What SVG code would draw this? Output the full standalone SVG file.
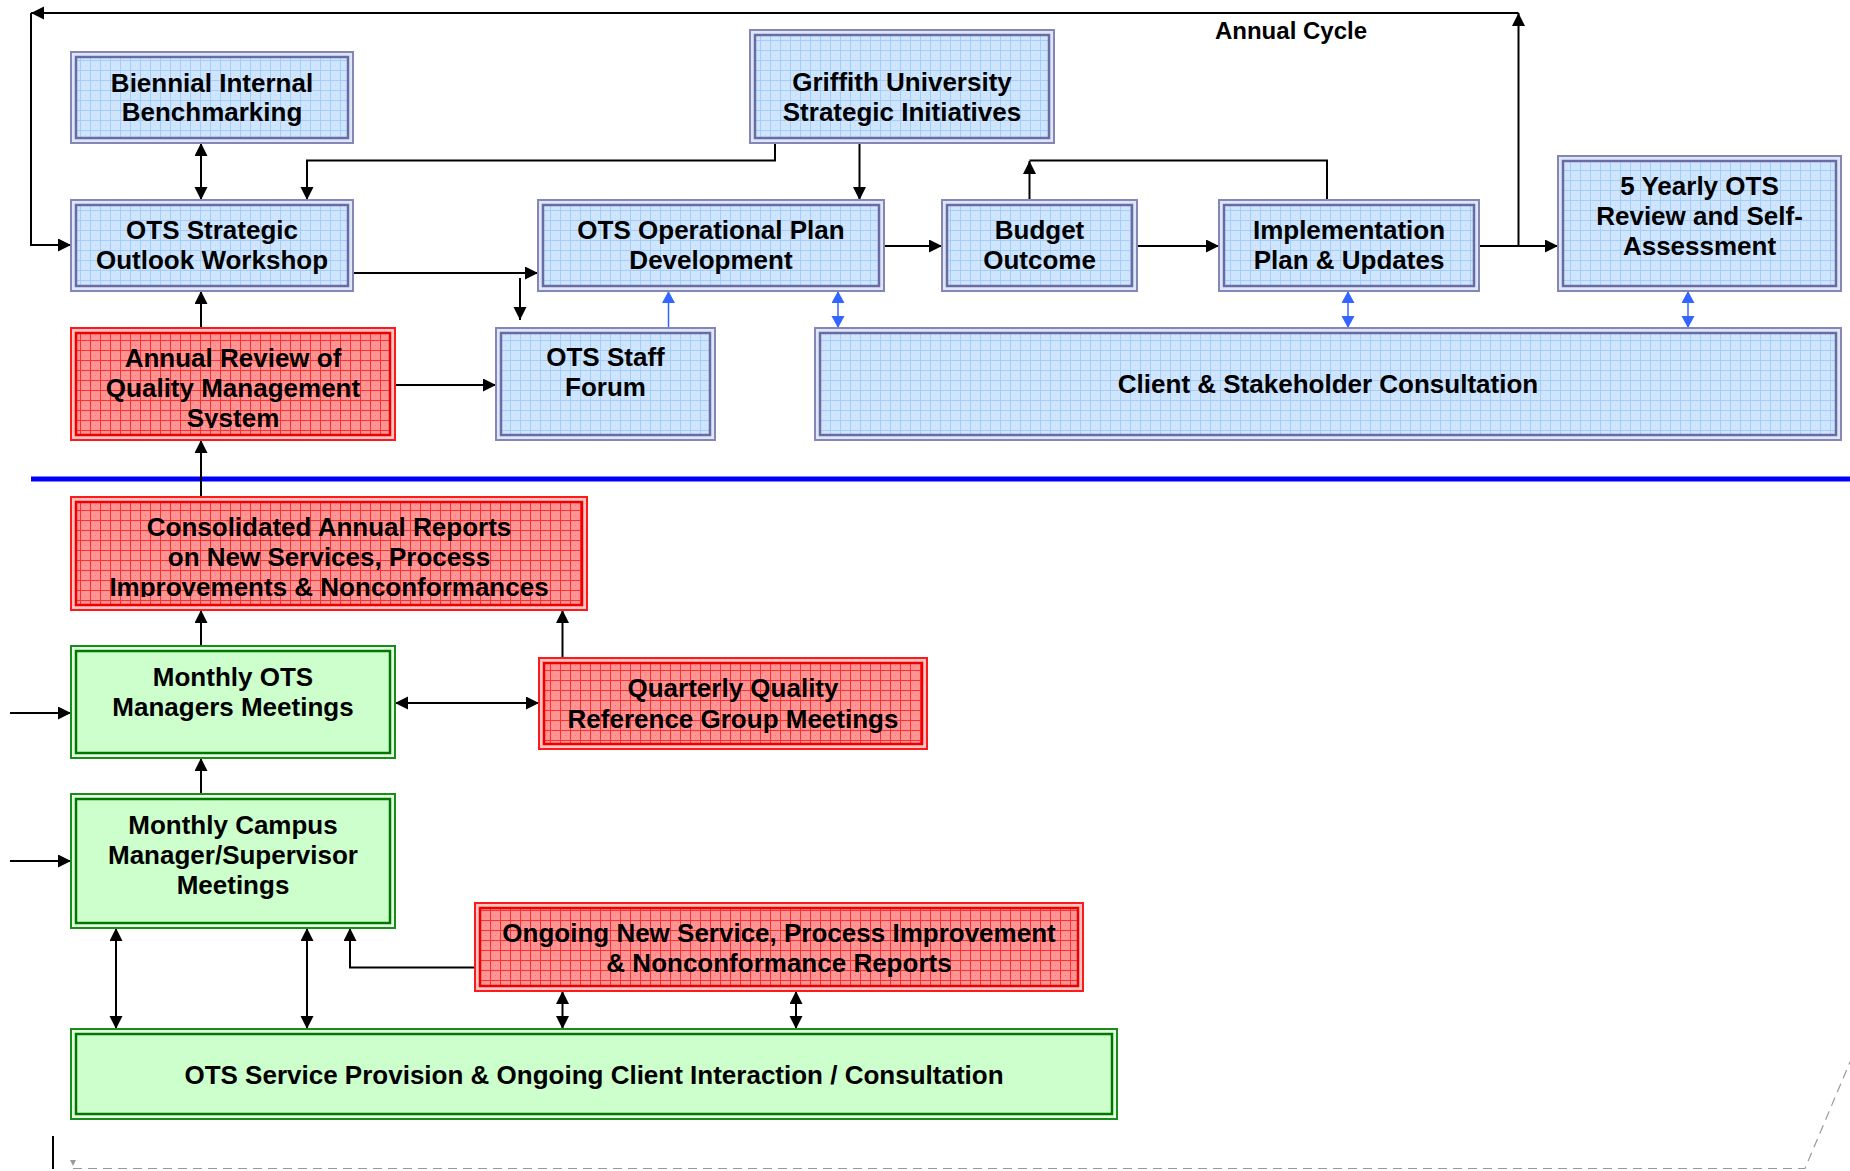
<svg xmlns="http://www.w3.org/2000/svg" width="1850" height="1171" viewBox="0 0 1850 1171">
<defs>
  <pattern id="gridBlue" patternUnits="userSpaceOnUse" width="10" height="10">
    <rect width="10" height="10" fill="#cfe5fd"/>
    <rect x="0" y="0" width="1" height="1" fill="#bcd9fb"/>
    <rect x="5" y="5" width="1" height="1" fill="#bcd9fb"/>
    <path d="M0,0.5H10M0.5,0V10" stroke="#a3cdfa" stroke-width="1"/>
  </pattern>
  <pattern id="gridRed" patternUnits="userSpaceOnUse" width="10" height="10">
    <rect width="10" height="10" fill="#ff9494"/>
    <rect x="5" y="5" width="1" height="1" fill="#ff7070"/>
    <path d="M0,0.5H10M0.5,0V10" stroke="#ff3030" stroke-width="1"/>
  </pattern>
  <marker id="ah" markerUnits="userSpaceOnUse" markerWidth="14" markerHeight="14" refX="13" refY="6.5" orient="auto-start-reverse">
    <path d="M0,0L13,6.5L0,13z" fill="#000"/>
  </marker>
  <marker id="ahb" markerUnits="userSpaceOnUse" markerWidth="14" markerHeight="14" refX="12" refY="6.5" orient="auto-start-reverse">
    <path d="M0,0L12,6.5L0,13z" fill="#3366ff"/>
  </marker>
  <clipPath id="clipAnnual"><rect x="71" y="328" width="324" height="100"/></clipPath>
  <clipPath id="clipCons"><rect x="71" y="497" width="516" height="100"/></clipPath>
</defs>
<style>
  text { font-family: "Liberation Sans", Arial, sans-serif; font-weight: bold; font-size: 26px; text-anchor: middle; fill: #000; }
  .blue .outer { fill: #dce8f8; stroke: #8686b6; stroke-width: 2; }
  .blue .inner { fill: url(#gridBlue); stroke: #6b6ba3; stroke-width: 2.5; }
  .red .outer { fill: #ffc4c4; stroke: #ff1a1a; stroke-width: 2; }
  .red .inner { fill: url(#gridRed); stroke: #ee0000; stroke-width: 2.5; }
  .green .outer { fill: #e2ffe2; stroke: #1a8c1a; stroke-width: 2; }
  .green .inner { fill: #ccffcc; stroke: #007800; stroke-width: 2.5; }
  .conn path { fill: none; stroke: #000; stroke-width: 2; }
  .conn path.a { marker-end: url(#ah); }
  .conn path.d { marker-start: url(#ah); marker-end: url(#ah); }
  .conn path.b { stroke: #3366ff; stroke-width: 1.5; marker-end: url(#ahb); }
  .conn path.bd { stroke: #3366ff; stroke-width: 1.5; marker-start: url(#ahb); marker-end: url(#ahb); }
</style>
<rect width="1850" height="1171" fill="#fff"/>

<!-- separator and page marks -->
<line x1="31" y1="479" x2="1850" y2="479" stroke="#0000ff" stroke-width="5"/>
<line x1="53" y1="1136" x2="53" y2="1169" stroke="#000" stroke-width="2"/>
<path d="M70,1160L76,1160L73,1166z" fill="#999"/>
<path d="M73,1168.5H1805L1850,1062" fill="none" stroke="#999" stroke-width="1.2" stroke-dasharray="9 6"/>
<text x="1291" y="39" style="font-size:24px">Annual Cycle</text>

<g id="connectors" class="conn">
  <path class="a" d="M1518.5,246V13"/>
  <path class="a" d="M1518.5,13H31"/>
  <path class="a" d="M31,13V245H71"/>
  <path class="d" d="M201,143V200"/>
  <path class="a" d="M775,143V160.5H307V200"/>
  <path class="a" d="M859.5,143V200"/>
  <path class="a" d="M353,273H538"/>
  <path class="a" d="M520,278V320"/>
  <path class="a" d="M201,328V291"/>
  <path class="a" d="M395,385H496"/>
  <path class="a" d="M201,497V440"/>
  <path class="b" d="M668.5,328V291"/>
  <path class="bd" d="M838,291V328"/>
  <path class="a" d="M884,246H942"/>
  <path class="a" d="M1137,246H1219"/>
  <path class="a" d="M1029.5,200V161"/>
  <path d="M1029.5,160.5H1327V200"/>
  <path class="a" d="M1479,246H1558"/>
  <path class="bd" d="M1348,291V328"/>
  <path class="bd" d="M1688,291V328"/>
  <path class="a" d="M201,646V610"/>
  <path class="a" d="M562.5,658V610"/>
  <path class="d" d="M395,703H539"/>
  <path class="a" d="M10,713H71"/>
  <path class="a" d="M201,794V758"/>
  <path class="a" d="M10,861H71"/>
  <path class="d" d="M116,928V1029"/>
  <path class="d" d="M307,928V1029"/>
  <path class="a" d="M477,967.5H350V928"/>
  <path class="d" d="M562.5,991V1029"/>
  <path class="d" d="M796,991V1029"/>
</g>

<g id="n-biennial" class="blue">
  <rect class="outer" x="71" y="52" width="282" height="91"/>
  <rect class="inner" x="76" y="57" width="272" height="81"/>
  <text x="212" y="92">Biennial Internal</text>
  <text x="212" y="121">Benchmarking</text>
</g>
<g id="n-strategic" class="blue">
  <rect class="outer" x="71" y="200" width="282" height="91"/>
  <rect class="inner" x="76" y="205" width="272" height="81"/>
  <text x="212" y="239">OTS Strategic</text>
  <text x="212" y="269">Outlook Workshop</text>
</g>
<g id="n-annual-review" class="red">
  <rect class="outer" x="71" y="328" width="324" height="112"/>
  <rect class="inner" x="76" y="333" width="314" height="102"/>
  <g clip-path="url(#clipAnnual)">
    <text x="233" y="367">Annual Review of</text>
    <text x="233" y="397">Quality Management</text>
    <text x="233" y="427">System</text>
  </g>
</g>
<g id="n-staff-forum" class="blue">
  <rect class="outer" x="496" y="328" width="219" height="112"/>
  <rect class="inner" x="501" y="333" width="209" height="102"/>
  <text x="605.5" y="366">OTS Staff</text>
  <text x="605.5" y="396">Forum</text>
</g>
<g id="n-opplan" class="blue">
  <rect class="outer" x="538" y="200" width="346" height="91"/>
  <rect class="inner" x="543" y="205" width="336" height="81"/>
  <text x="711" y="239">OTS Operational Plan</text>
  <text x="711" y="269">Development</text>
</g>
<g id="n-griffith" class="blue">
  <rect class="outer" x="750" y="30" width="304" height="113"/>
  <rect class="inner" x="755" y="35" width="294" height="103"/>
  <text x="902" y="91">Griffith University</text>
  <text x="902" y="121">Strategic Initiatives</text>
</g>
<g id="n-budget" class="blue">
  <rect class="outer" x="942" y="200" width="195" height="91"/>
  <rect class="inner" x="947" y="205" width="185" height="81"/>
  <text x="1039.5" y="239">Budget</text>
  <text x="1039.5" y="269">Outcome</text>
</g>
<g id="n-implementation" class="blue">
  <rect class="outer" x="1219" y="200" width="260" height="91"/>
  <rect class="inner" x="1224" y="205" width="250" height="81"/>
  <text x="1349" y="239">Implementation</text>
  <text x="1349" y="269">Plan &amp; Updates</text>
</g>
<g id="n-five-yearly" class="blue">
  <rect class="outer" x="1558" y="156" width="283" height="135"/>
  <rect class="inner" x="1563" y="161" width="273" height="125"/>
  <text x="1699.5" y="195">5 Yearly OTS</text>
  <text x="1699.5" y="225">Review and Self-</text>
  <text x="1699.5" y="255">Assessment</text>
</g>
<g id="n-client" class="blue">
  <rect class="outer" x="815" y="328" width="1026" height="112"/>
  <rect class="inner" x="820" y="333" width="1016" height="102"/>
  <text x="1328" y="393">Client &amp; Stakeholder Consultation</text>
</g>
<g id="n-consolidated" class="red">
  <rect class="outer" x="71" y="497" width="516" height="113"/>
  <rect class="inner" x="76" y="502" width="506" height="103"/>
  <g clip-path="url(#clipCons)">
    <text x="329" y="536">Consolidated Annual Reports</text>
    <text x="329" y="566">on New Services, Process</text>
    <text x="329" y="596">Improvements &amp; Nonconformances</text>
  </g>
</g>
<g id="n-monthly-ots" class="green">
  <rect class="outer" x="71" y="646" width="324" height="112"/>
  <rect class="inner" x="76" y="651" width="314" height="102"/>
  <text x="233" y="686">Monthly OTS</text>
  <text x="233" y="716">Managers Meetings</text>
</g>
<g id="n-quarterly" class="red">
  <rect class="outer" x="539" y="658" width="388" height="91"/>
  <rect class="inner" x="544" y="663" width="378" height="81"/>
  <text x="733" y="697">Quarterly Quality</text>
  <text x="733" y="728">Reference Group Meetings</text>
</g>
<g id="n-monthly-campus" class="green">
  <rect class="outer" x="71" y="794" width="324" height="134"/>
  <rect class="inner" x="76" y="799" width="314" height="124"/>
  <text x="233" y="834">Monthly Campus</text>
  <text x="233" y="864">Manager/Supervisor</text>
  <text x="233" y="894">Meetings</text>
</g>
<g id="n-ongoing" class="red">
  <rect class="outer" x="475" y="903" width="608" height="88"/>
  <rect class="inner" x="480" y="908" width="598" height="78"/>
  <text x="779" y="942">Ongoing New Service, Process Improvement</text>
  <text x="779" y="972">&amp; Nonconformance Reports</text>
</g>
<g id="n-service" class="green">
  <rect class="outer" x="71" y="1029" width="1046" height="90"/>
  <rect class="inner" x="76" y="1034" width="1036" height="80"/>
  <text x="594" y="1084">OTS Service Provision &amp; Ongoing Client Interaction / Consultation</text>
</g>
</svg>
